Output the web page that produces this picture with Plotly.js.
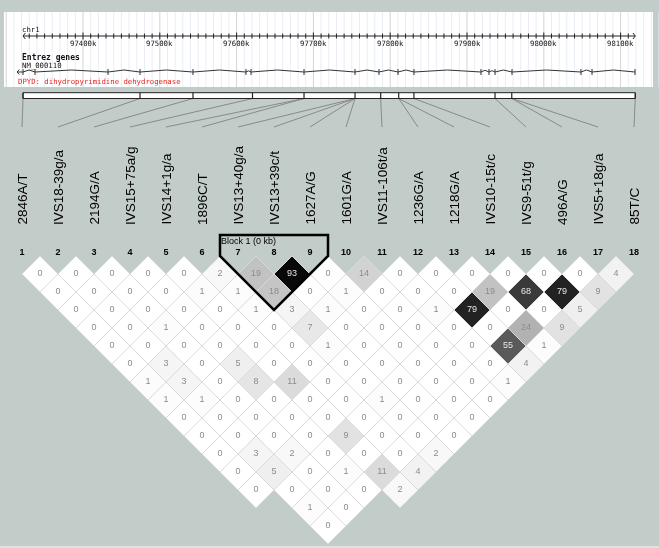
<!DOCTYPE html>
<html><head><meta charset="utf-8">
<script src="https://cdn.plot.ly/plotly-3.0.1.min.js"></script>
<style>html,body{margin:0;padding:0;background:#c2ccc9;} #chart{will-change:transform;} .main-svg{will-change:transform;}</style>
</head><body><div id="chart" style="width:659px;height:548px;"></div>
<script>
// ---------------- DATA ----------------
const snpNames = ["2846A/T","IVS18-39g/a","2194G/A","IVS15+75a/g","IVS14+1g/a","1896C/T","IVS13+40g/a","IVS13+39c/t","1627A/G","1601G/A","IVS11-106t/a","1236G/A","1218G/A","IVS10-15t/c","IVS9-51t/g","496A/G","IVS5+18g/a","85T/C"];
// estimated genomic positions (kb) of the markers on chr1
const snpKb = [97321.9, 97474.2, 97543.2, 97620.7, 97687.8, 97687.8, 97754.2, 97754.2, 97754.2, 97754.2, 97787.6, 97811.1, 97811.1, 97830.9, 97936.5, 97958.3, 97958.3, 98119.1];
// pairwise r^2 (x100); ldRowN[i-1] = value for pair (i, i+N); null = not computed
const ldRow1  = [0,0,0,0,0,2,19,93,0,14,0,0,0,0,0,0,4];
const ldRow2  = [0,0,0,0,1,1,18,0,1,0,0,0,19,68,79,9];
const ldRow3  = [0,0,0,0,0,1,3,1,0,0,1,79,0,0,5];
const ldRow4  = [0,0,1,0,0,0,7,0,0,0,0,0,24,9];
const ldRow5  = [0,0,0,0,0,0,1,0,0,0,0,55,1];
const ldRow6  = [0,3,0,5,0,0,0,0,0,0,0,4];
const ldRow7  = [1,3,0,8,11,0,0,0,0,0,1];
const ldRow8  = [1,1,0,0,0,0,1,0,0,0];
const ldRow9  = [0,0,0,0,0,0,0,0,0];
const ldRow10 = [0,0,0,0,9,0,0,0];
const ldRow11 = [0,3,2,0,0,0,2];
const ldRow12 = [0,5,0,1,11,4];
const ldRow13 = [0,0,0,0,2];
const ldRow14 = [null,1,0,null];
const ldRow15 = [null,0,null];
const ldRow16 = [null,null];
const ldRow17 = [null];
const ldRows = [ldRow1,ldRow2,ldRow3,ldRow4,ldRow5,ldRow6,ldRow7,ldRow8,ldRow9,ldRow10,ldRow11,ldRow12,ldRow13,ldRow14,ldRow15,ldRow16,ldRow17];
const blockFirst = 7, blockLast = 9, blockLabel = "Block 1 (0 kb)";
const tickKb = [97400,97500,97600,97700,97800,97900,98000,98100];
const tickLabels = ["97400k","97500k","97600k","97700k","97800k","97900k","98000k","98100k"];
const exonKb = [97321.9,97337.5,97432.6,97474.2,97543.2,97612.2,97618.8,97687.8,97754.2,97785.4,97810.2,97831.0,97918.2,97928.6,97936.5,97958.6,98048.4,98062.8,98118.8];
const geneStartKb = 97314.1, geneEndKb = 98118.8;
const chromName = "chr1", trackName = "Entrez genes", transcript = "NM_000110", geneLabel = "DPYD: dihydropyrimidine dehydrogenase";

// ---------------- GEOMETRY ----------------
const W = 659, H = 548;
const xIdxRange = [1 - 22/36, 1 + (W - 22)/36];          // marker index axis
const xKbRange = [97400 - 83/0.768, 97400 + (W - 83)/0.768]; // genomic axis
const yRange = [(H - 256)/36, -256/36];                  // half-marker units, reversed
const yPix = p => (p - 256)/36;
const kbToIdx = kb => xIdxRange[0] + (kb - xKbRange[0])/(xKbRange[1]-xKbRange[0])*(xIdxRange[1]-xIdxRange[0]);
const N = snpNames.length;

function cellFill(v){ const g = Math.round(255*Math.pow(1 - v/100, 1.3)); return `rgb(${g},${g},${g})`; }

const shapes = [];
const cx = [], cy = [], ct = [], cc = [];
ldRows.forEach((row, r0) => {
  const r = r0 + 1;
  row.forEach((v, i0) => {
    if (v === null) return;
    const i = i0 + 1, j = i + r;
    const x = (i + j)/2, y = r/2;
    shapes.push({type:'path', xref:'x', yref:'y',
      path:`M${x-0.5},${y} L${x},${y-0.5} L${x+0.5},${y} L${x},${y+0.5} Z`,
      fillcolor: cellFill(v), line:{color:'#dadada', width:1}, layer:'below'});
    cx.push(x); cy.push(y); ct.push(String(v)); cc.push(v >= 50 ? '#e6e6e6' : '#8c8c8c');
  });
});

// block outline
const bL = blockFirst - 0.5, bR = blockLast + 0.5, bX = (blockFirst+blockLast)/2, bY = (blockLast-blockFirst)/2 + 0.5;
shapes.push({type:'path', xref:'x', yref:'y',
  path:`M${bL},${yPix(235)} L${bR},${yPix(235)} L${bR},0 L${bX},${bY} L${bL},0 Z`,
  line:{color:'#000', width:2.5}, fillcolor:'rgba(0,0,0,0)'});

// bottom light edge of the figure
shapes.push({type:'rect', xref:'paper', yref:'y', x0:0, x1:1, y0:yPix(546), y1:yPix(548), fillcolor:'#dde3e1', line:{width:0}});

// top panel white box
shapes.push({type:'rect', xref:'paper', yref:'y', x0:4/W, x1:653/W, y0:yPix(12), y1:yPix(87), fillcolor:'#ffffff', line:{width:0}, layer:'below'});
// grid lines every 10k
let minor = '', major = '', ticks = '';
for (let kb = 97300; kb <= 98150; kb += 10) {
  if (kb % 100 === 0) major += `M${kb},${yPix(12)} L${kb},${yPix(87)} `;
  else minor += `M${kb},${yPix(12)} L${kb},${yPix(87)} `;
  if (kb >= 97330 && kb <= 98110) {
    const h = (kb % 100 === 0) ? 3.5 : 2.5;
    ticks += `M${kb},${yPix(36-h)} L${kb},${yPix(36+h)} `;
  }
}
shapes.push({type:'path', xref:'x2', yref:'y', path:minor, line:{color:'#e9edf4', width:1}, layer:'below'});
shapes.push({type:'path', xref:'x2', yref:'y', path:major, line:{color:'#d4d4d4', width:1}, layer:'below'});
shapes.push({type:'path', xref:'x2', yref:'y', path:ticks, line:{color:'#222', width:1}});
// chromosome axis line with arrow ends
const aL = snpKb[0], aR = snpKb[N-1];
shapes.push({type:'path', xref:'x2', yref:'y',
  path:`M${aL},${yPix(36)} L${aR},${yPix(36)} M${aL+3},${yPix(33)} L${aL},${yPix(36)} L${aL+3},${yPix(39)} M${aR-3},${yPix(33)} L${aR},${yPix(36)} L${aR-3},${yPix(39)}`,
  line:{color:'#222', width:1}});
// gene model
let gene = `M${geneStartKb},${yPix(72)} L${exonKb[0]},${yPix(72)} `;
for (let e = 0; e < exonKb.length - 1; e++) {
  const a = exonKb[e], b = exonKb[e+1], m = (a+b)/2;
  const hh = Math.min(2, (b-a)/6);
  gene += `M${a},${yPix(72)} L${m},${yPix(72-hh)} L${b},${yPix(72)} `;
}
exonKb.forEach(e => { gene += `M${e},${yPix(69)} L${e},${yPix(75)} `; });
gene += `M${geneStartKb+3},${yPix(69.5)} L${geneStartKb},${yPix(72)} L${geneStartKb+3},${yPix(74.5)}`;
shapes.push({type:'path', xref:'x2', yref:'y', path:gene, line:{color:'#333', width:1}});
// marker bar
shapes.push({type:'rect', xref:'x2', yref:'y', x0:snpKb[0], x1:snpKb[N-1], y0:yPix(92.7), y1:yPix(98.5), fillcolor:'#ffffff', line:{color:'#222', width:1}});
let div = '';
snpKb.forEach(kb => { div += `M${kb},${yPix(92.7)} L${kb},${yPix(98.5)} `; });
shapes.push({type:'path', xref:'x2', yref:'y', path:div, line:{color:'#222', width:1.2}});

// leader lines
const lx = [], ly = [];
snpKb.forEach((kb, k) => { lx.push(kbToIdx(kb), k+1, null); ly.push(yPix(98.5), yPix(127), null); });

const annotations = [];
snpNames.forEach((n, k) => annotations.push({xref:'x', yref:'y', x:k+1, y:yPix(226), text:n, textangle:-90,
  showarrow:false, xanchor:'center', yanchor:'bottom', borderpad:0,
  font:{family:'Liberation Sans, Arial, sans-serif', size:13.5, color:'#000'}}));
annotations.push({xref:'x', yref:'y', x:bL, y:yPix(241), text:blockLabel, showarrow:false, xanchor:'left', yanchor:'middle', borderpad:0,
  font:{family:'Liberation Sans, Arial, sans-serif', size:9, color:'#000'}});
const mono = 'DejaVu Sans Mono, monospace';
annotations.push({xref:'paper', yref:'y', x:21/W, y:yPix(29.3), text:chromName, showarrow:false, xanchor:'left', yanchor:'middle', borderpad:0, font:{family:mono, size:7.3, color:'#111'}});
annotations.push({xref:'paper', yref:'y', x:21/W, y:yPix(57.5), text:'<b>'+trackName+'</b>', showarrow:false, xanchor:'left', yanchor:'middle', borderpad:0, font:{family:mono, size:8, color:'#111'}});
annotations.push({xref:'paper', yref:'y', x:21/W, y:yPix(65.7), text:transcript, showarrow:false, xanchor:'left', yanchor:'middle', borderpad:0, font:{family:mono, size:7.3, color:'#111'}});
annotations.push({xref:'paper', yref:'y', x:17/W, y:yPix(81), text:geneLabel, showarrow:false, xanchor:'left', yanchor:'middle', borderpad:0, font:{family:mono, size:7.3, color:'#e8231e'}});
tickKb.forEach((t, k) => annotations.push({xref:'x2', yref:'y', x:t, y:yPix(43.3), text:tickLabels[k], showarrow:false, xanchor:'center', yanchor:'middle', borderpad:0, font:{family:mono, size:7.3, color:'#111'}}));

const traces = [
  {type:'scatter', mode:'lines', x:lx, y:ly, xaxis:'x', yaxis:'y', line:{color:'#8a8a8a', width:1}, hoverinfo:'skip', connectgaps:false},
  {type:'scatter', mode:'text', x:cx, y:cy, text:ct, xaxis:'x', yaxis:'y', textposition:'middle center',
    textfont:{family:'Liberation Sans, Arial, sans-serif', size:9, color:cc}, hoverinfo:'skip'},
  {type:'scatter', mode:'text', x:snpNames.map((_,k)=>k+1), y:snpNames.map(()=>yPix(253)), text:snpNames.map((_,k)=>'<b>'+(k+1)+'</b>'),
    xaxis:'x', yaxis:'y', textposition:'middle center', textfont:{family:'Liberation Sans, Arial, sans-serif', size:9, color:'#000'}, hoverinfo:'skip'}
];

const layout = {
  width:W, height:H, margin:{l:0,r:0,t:0,b:0,pad:0},
  paper_bgcolor:'#c2ccc9', plot_bgcolor:'rgba(0,0,0,0)', showlegend:false,
  xaxis:{range:xIdxRange, visible:false, fixedrange:true},
  xaxis2:{range:xKbRange, visible:false, overlaying:'x', anchor:'y', fixedrange:true},
  yaxis:{range:yRange, visible:false, fixedrange:true},
  shapes:shapes, annotations:annotations
};
Plotly.newPlot('chart', traces, layout, {staticPlot:true, displayModeBar:false});
</script></body></html>
